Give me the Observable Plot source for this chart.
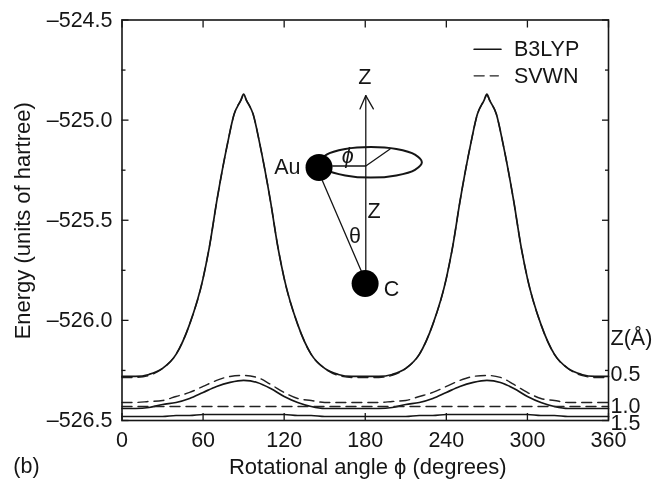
<!DOCTYPE html>
<html><head><meta charset="utf-8">
<script src="https://cdn.jsdelivr.net/npm/d3@7"></script>
<script src="https://cdn.jsdelivr.net/npm/@observablehq/plot@0.6"></script>
<style>html,body{margin:0;padding:0;background:#fff}svg{display:block}</style>
</head><body><div id="c"></div>
<script>
const phiSteep = [0,10,20,30,40,50,60,65,70,78,83,88,90,92,97,102,110,115,120,130,140,150,160,170,180,190,200,210,220,230,240,245,250,258,263,268,270,272,277,282,290,295,300,310,320,330,340,350,360];
const z05B3 = [-526.28,-526.28,-526.27,-526.24,-526.17,-526.02,-525.79,-525.62,-525.41,-525.12,-524.97,-524.90,-524.87,-524.90,-524.97,-525.12,-525.41,-525.62,-525.79,-526.02,-526.17,-526.24,-526.27,-526.28,-526.28,-526.28,-526.27,-526.24,-526.17,-526.02,-525.79,-525.62,-525.41,-525.12,-524.97,-524.90,-524.87,-524.90,-524.97,-525.12,-525.41,-525.62,-525.79,-526.02,-526.17,-526.24,-526.27,-526.28,-526.28];
const z05SV = [-526.285,-526.285,-526.275,-526.24,-526.17,-526.02,-525.79,-525.62,-525.41,-525.12,-524.97,-524.90,-524.875,-524.90,-524.97,-525.12,-525.41,-525.62,-525.79,-526.02,-526.17,-526.24,-526.275,-526.285,-526.285,-526.285,-526.275,-526.24,-526.17,-526.02,-525.79,-525.62,-525.41,-525.12,-524.97,-524.90,-524.875,-524.90,-524.97,-525.12,-525.41,-525.62,-525.79,-526.02,-526.17,-526.24,-526.275,-526.285,-526.285];
const phi = [0,10,20,30,40,50,60,70,80,90,100,110,120,130,140,150,160,170,180,190,200,210,220,230,240,250,260,270,280,290,300,310,320,330,340,350,360];
const z10B3 = [-526.44,-526.44,-526.435,-526.42,-526.41,-526.39,-526.36,-526.33,-526.31,-526.30,-526.31,-526.34,-526.38,-526.41,-526.43,-526.44,-526.44,-526.44,-526.44,-526.44,-526.435,-526.42,-526.41,-526.39,-526.36,-526.33,-526.31,-526.30,-526.31,-526.34,-526.38,-526.41,-526.43,-526.44,-526.44,-526.44,-526.44];
const z10SV = [-526.41,-526.41,-526.405,-526.40,-526.38,-526.36,-526.33,-526.30,-526.28,-526.275,-526.285,-526.32,-526.36,-526.39,-526.40,-526.41,-526.41,-526.41,-526.41,-526.41,-526.405,-526.40,-526.38,-526.36,-526.33,-526.30,-526.28,-526.275,-526.285,-526.32,-526.36,-526.39,-526.40,-526.41,-526.41,-526.41,-526.41];
const z15B3 = [-526.48,-526.48,-526.48,-526.48,-526.475,-526.475,-526.47,-526.47,-526.47,-526.47,-526.47,-526.47,-526.47,-526.475,-526.475,-526.48,-526.48,-526.48,-526.48,-526.48,-526.48,-526.48,-526.475,-526.475,-526.47,-526.47,-526.47,-526.47,-526.47,-526.47,-526.47,-526.475,-526.475,-526.48,-526.48,-526.48,-526.48];
const z15SV = [-526.43,-526.43,-526.43,-526.43,-526.43,-526.43,-526.43,-526.43,-526.43,-526.43,-526.43,-526.43,-526.43,-526.43,-526.43,-526.43,-526.43,-526.43,-526.43,-526.43,-526.43,-526.43,-526.43,-526.43,-526.43,-526.43,-526.43,-526.43,-526.43,-526.43,-526.43,-526.43,-526.43,-526.43,-526.43,-526.43,-526.43];

const xTicks = [0,60,120,180,240,300,360];
const yMajor = [-524.5,-525,-525.5,-526,-526.5];
const yMajorLabels = ["–524.5","–525.0","–525.5","–526.0","–526.5"];
const yMinor = [-524.75,-525.25,-525.75,-526.25];

// inset diagram, in the chart's own units
const ringPhi = [221.9,216.8,203,184.1,165.2,151.4,146.3,151.4,165.2,184.1,203,216.8];
const ringE = [-525.21,-525.172,-525.144,-525.134,-525.144,-525.172,-525.21,-525.248,-525.276,-525.287,-525.276,-525.248];
const zAxisPhi = [180.4,180.4];
const zAxisE = [-525.7525,-524.8775];
const arrowPhi = [176.1,180.4,186.0];
const arrowE = [-524.944,-524.8775,-524.944];
const bondPhi = [148.3,177.2];
const bondE = [-525.3025,-525.756];
const spokePhi = [155.9,180.4,198.4];
const spokeE = [-525.229,-525.229,-525.144];
const atomPhi = [145.8,179.9];
const atomE = [-525.236,-525.816];
const insetText = ["Z","Au","Z","θ","C"];
const insetPhi = [179.6,122.4,186.5,172.4,199.4];
const insetE = [-524.786,-525.236,-525.4525,-525.581,-525.844];

const legendNames = ["B3LYP","SVWN"];
const legendE = [-524.646,-524.779];
const zNames = ["Z(Å)","0.5","1.0","1.5"];
const zE = [-526.087,-526.267,-526.428,-526.512];

const rows = (xs, ys) => xs.map((x,i)=>({x,y:ys[i]}));
const F = "Liberation Sans";
const INK = "#151515";
const solid = (xs,ys) => Plot.line(rows(xs,ys),{x:"x",y:"y",stroke:INK,strokeWidth:1.7,curve:"monotone-x"});
const dash = (xs,ys) => Plot.line(rows(xs,ys),{x:"x",y:"y",stroke:"#222",strokeWidth:1.4,strokeDasharray:"10 6",curve:"monotone-x"});
const thin = (xs,ys) => Plot.line(rows(xs,ys),{x:"x",y:"y",stroke:INK,strokeWidth:1.3});
const txt = (data,o) => Plot.text(data,{fontFamily:F,fontSize:21.5,fill:INK,...o});
const tk = {tickFormat:()=>"",label:null,stroke:INK,strokeWidth:1.3};

const plot = Plot.plot({
  width:652,height:479,
  marginLeft:121.5,marginRight:44,marginTop:19.5,marginBottom:59,
  style:{fontFamily:F,background:"#fff",filter:"blur(0.35px)"},
  x:{domain:[0,360],axis:null},
  y:{domain:[-526.5,-524.5],axis:null},
  marks:[
    dash(phiSteep,z05SV), solid(phiSteep,z05B3),
    dash(phi,z10SV), solid(phi,z10B3),
    dash(phi,z15SV), solid(phi,z15B3),
    Plot.frame({stroke:INK,strokeWidth:1.6}),

    Plot.axisX(xTicks,{anchor:"bottom",tickSize:-7,...tk}),
    Plot.axisX(xTicks,{anchor:"top",tickSize:-7,...tk}),
    Plot.axisY(yMajor,{anchor:"left",tickSize:-7,...tk}),
    Plot.axisY(yMajor,{anchor:"right",tickSize:-7,...tk}),
    Plot.axisY(yMinor,{anchor:"left",tickSize:-4,...tk}),
    Plot.axisY(yMinor,{anchor:"right",tickSize:-4,...tk}),

    txt(xTicks,{x:d=>d,frameAnchor:"bottom",dy:20,text:d=>String(d),lineAnchor:"middle"}),
    txt(yMajor,{y:d=>d,frameAnchor:"left",dx:-9.5,textAnchor:"end",text:(d,i)=>yMajorLabels[i]}),

    txt(["Rotational angle ϕ (degrees)"],{x:[181.9],y:[-526.73],fontSize:22,text:d=>d}),
    txt(["Energy (units of hartree)"],{x:[-73],y:[-525.5025],rotate:-90,fontSize:22,text:d=>d}),
    txt(["(b)"],{x:[-70.7],y:[-526.73],text:d=>d}),

    Plot.line(rows(ringPhi,ringE),{x:"x",y:"y",stroke:INK,strokeWidth:2,curve:"catmull-rom-closed"}),
    thin(zAxisPhi,zAxisE), thin(arrowPhi,arrowE), thin(bondPhi,bondE), thin(spokePhi,spokeE),
    Plot.dot(rows(atomPhi,atomE),{x:"x",y:"y",r:13.5,fill:"#000"}),
    txt(insetText,{x:(d,i)=>insetPhi[i],y:(d,i)=>insetE[i],text:d=>d}),
    txt(["ϕ"],{x:[167],y:[-525.181],fontStyle:"italic",text:d=>d}),

    solid([260.6,280.4],[legendE[0],legendE[0]]),
    Plot.line(rows([260.6,278.5],[legendE[1],legendE[1]]),{x:"x",y:"y",stroke:"#222",strokeWidth:1.4,strokeDasharray:"10 6"}),
    txt(legendNames,{x:[290,290],y:legendE,textAnchor:"start",text:d=>d}),
    txt(zNames,{x:[361.5,361.5,361.5,361.5],y:zE,textAnchor:"start",text:d=>d})
  ]
});
document.getElementById("c").appendChild(plot);
</script></body></html>
